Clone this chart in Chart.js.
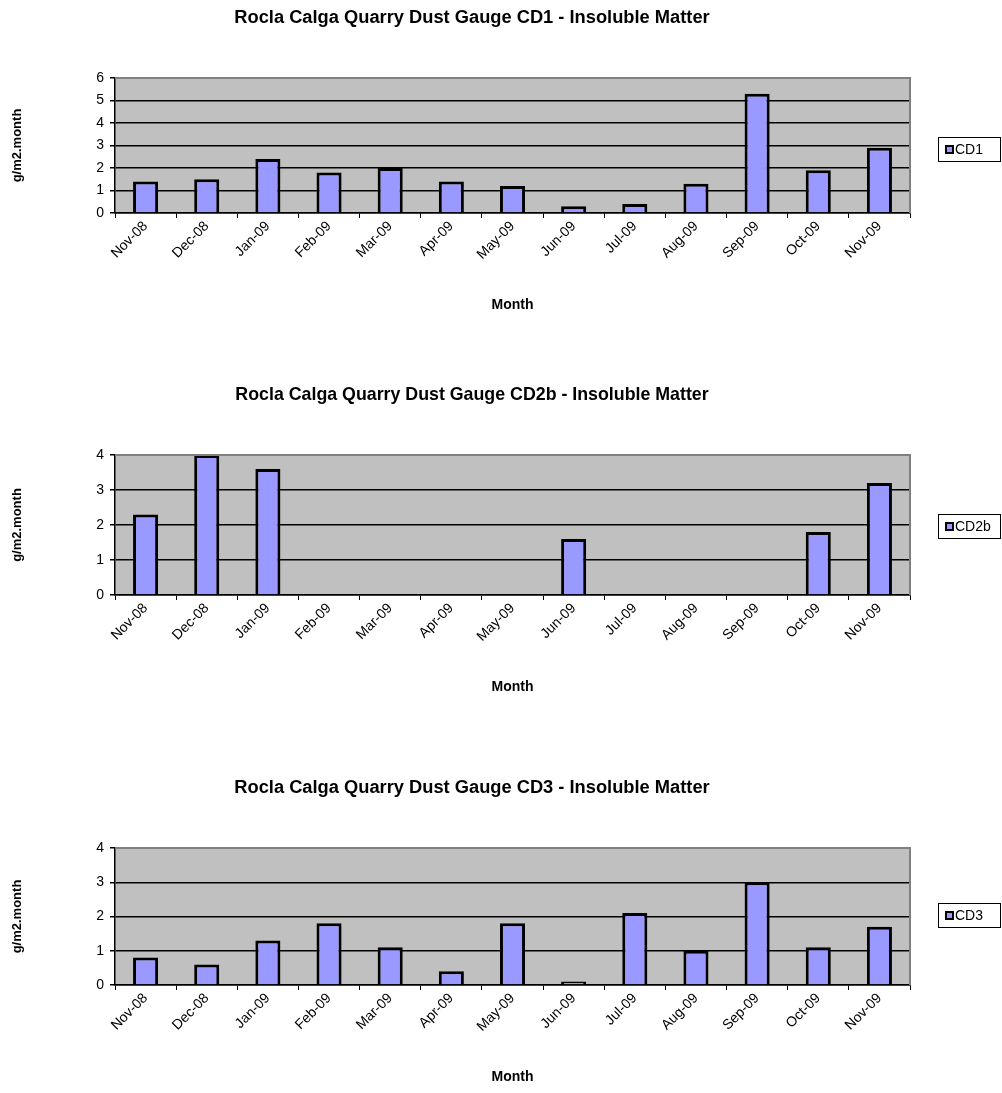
<!DOCTYPE html><html><head><meta charset="utf-8">
<script src="https://cdn.jsdelivr.net/npm/chart.js@4/dist/chart.umd.min.js"></script>
<style>body{margin:0;background:#fff;width:1002px;height:1093px;position:relative;overflow:hidden}
.c{position:absolute;left:0;width:1002px;height:340px}</style></head><body>
<div class="c" style="top:0"><canvas id="c1"></canvas></div>
<div class="c" style="top:377px"><canvas id="c2"></canvas></div>
<div class="c" style="top:770px"><canvas id="c3"></canvas></div>
<script>
const months=["Nov-08","Dec-08","Jan-09","Feb-09","Mar-09","Apr-09","May-09","Jun-09","Jul-09","Aug-09","Sep-09","Oct-09","Nov-09"];
const cd1=[1.4,1.5,2.4,1.8,2.0,1.4,1.2,0.3,0.4,1.3,5.3,1.9,2.9];
const cd2b=[2.3,4.0,3.6,null,null,null,null,1.6,null,null,null,1.8,3.2];
const cd3=[0.8,0.6,1.3,1.8,1.1,0.4,1.8,0.1,2.1,1.0,3.0,1.1,1.7];
const F="'Liberation Sans', Arial, sans-serif";
const deco={id:'deco',
 beforeDraw(ch){const a=ch.chartArea,c=ch.ctx;c.save();c.fillStyle='#C0C0C0';c.fillRect(a.left,a.top,a.width,a.height);c.restore();},
 afterDraw(ch){const a=ch.chartArea,c=ch.ctx,o=ch.options.plugins.deco;c.save();
  c.strokeStyle='#808080';c.lineWidth=2;c.beginPath();c.moveTo(a.left,a.top);c.lineTo(a.right,a.top);c.lineTo(a.right,a.bottom);c.stroke();
  c.font='bold 14px '+F;const w=c.measureText(o.title).width;const fs=14*475/w;
  c.font='bold '+fs.toFixed(1)+'px '+F;c.fillStyle='#000';c.textAlign='center';c.textBaseline='middle';c.fillText(o.title,472,18);
  const lx=938,ly=o.ly,lw=62;c.fillStyle='#fff';c.fillRect(lx,ly,lw,24);c.strokeStyle='#000';c.lineWidth=1;c.strokeRect(lx+.5,ly+.5,lw,24);
  c.fillStyle='#9999FF';c.fillRect(lx+8,ly+9,7,7);c.strokeStyle='#000';c.lineWidth=2;c.strokeRect(lx+8,ly+9,7,7);
  c.fillStyle='#000';c.font='14px '+F;c.textAlign='left';c.fillText(ch.data.datasets[0].label,lx+17,ly+13);c.restore();}};
function make(id,label,data,max,title,ly,bottomPad){
 new Chart(document.getElementById(id),{type:'bar',plugins:[deco],
  data:{labels:months,datasets:[{label,data,backgroundColor:'#9999FF',borderColor:'#000',borderWidth:3,borderSkipped:'bottom',barPercentage:1,categoryPercentage:0.41}]},
  options:{responsive:true,maintainAspectRatio:false,animation:false,
   layout:{padding:{top:78,right:92,bottom:bottomPad,left:0}},
   plugins:{legend:{display:false},tooltip:{enabled:false},deco:{title,ly}},
   scales:{
    x:{afterFit(s){s.height=105},grid:{drawOnChartArea:false,color:'#000',tickLength:5,offset:true},border:{color:'#000',width:1.5},
       ticks:{maxRotation:45,minRotation:45,color:'#000',font:{family:F,size:14},padding:0},
       title:{display:true,text:'Month',color:'#000',font:{family:F,size:14,weight:'bold'},padding:{top:6}}},
    y:{min:0,max,afterFit(s){s.width=115},grid:{color:'#000',lineWidth:1.5,tickLength:5},border:{color:'#000',width:1.5},
       ticks:{stepSize:1,color:'#000',font:{family:F,size:14},padding:6},
       title:{display:true,text:'g/m2.month',color:'#000',font:{family:F,size:13,weight:'bold'},padding:{top:10,bottom:0}}}}}});
}
make('c1','CD1',cd1,6,'Rocla Calga Quarry Dust Gauge CD1 - Insoluble Matter',137,22);
make('c2','CD2b',cd2b,4,'Rocla Calga Quarry Dust Gauge CD2b - Insoluble Matter',137,17);
make('c3','CD3',cd3,4,'Rocla Calga Quarry Dust Gauge CD3 - Insoluble Matter',133,20);
</script></body></html>
